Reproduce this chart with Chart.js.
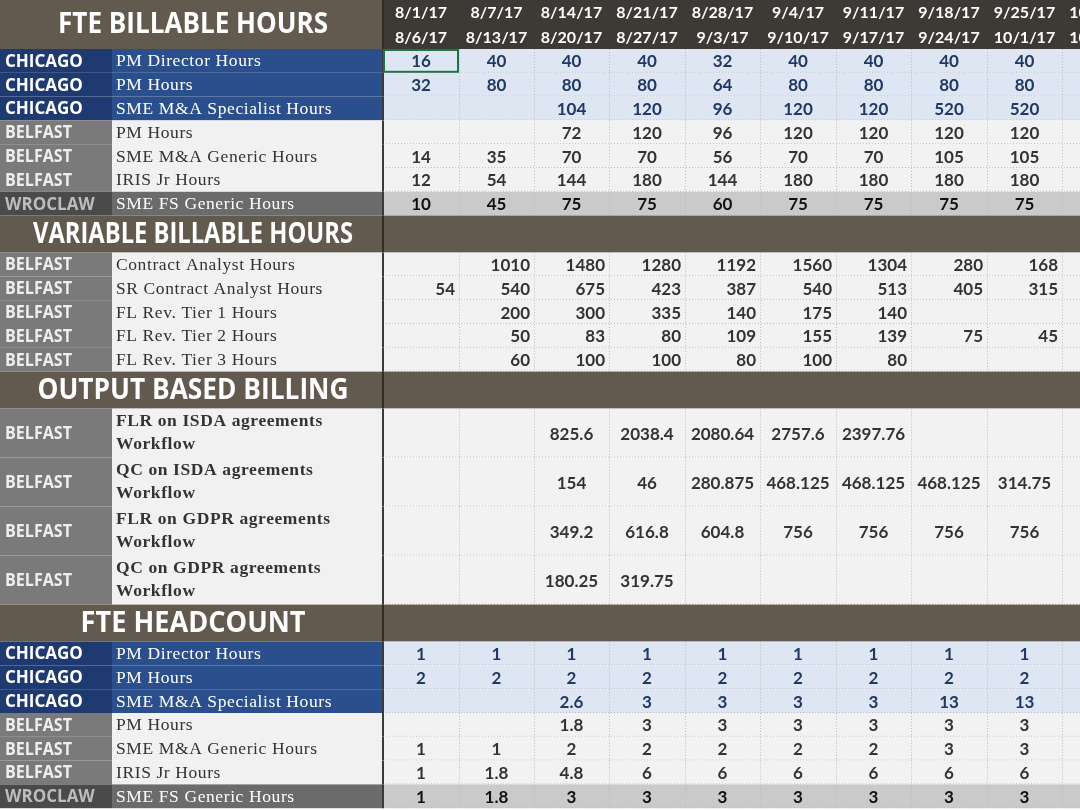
<!DOCTYPE html>
<html>
<head>
<meta charset="utf-8">
<script src="https://cdn.jsdelivr.net/npm/chart.js@4"></script>
<style>
  body { margin: 0; background: #fff; }
  #wrap { width: 1080px; height: 810px; }
</style>
</head>
<body>
<div id="wrap"><canvas id="myChart"></canvas></div>
<script>
const dateStart = ['8/1/17', '8/7/17', '8/14/17', '8/21/17', '8/28/17', '9/4/17', '9/11/17', '9/18/17', '9/25/17', '10/2/17'];
const dateEnd = ['8/6/17', '8/13/17', '8/20/17', '8/27/17', '9/3/17', '9/10/17', '9/17/17', '9/24/17', '10/1/17', '10/8/17'];

const fteRegions = ['CHICAGO', 'CHICAGO', 'CHICAGO', 'BELFAST', 'BELFAST', 'BELFAST', 'WROCLAW'];
const fteLabels = ['PM Director Hours', 'PM Hours', 'SME M&A Specialist Hours', 'PM Hours', 'SME M&A Generic Hours', 'IRIS Jr Hours', 'SME FS Generic Hours'];
const fteHours = [
  [16, 40, 40, 40, 32, 40, 40, 40, 40],
  [32, 80, 80, 80, 64, 80, 80, 80, 80],
  [null, null, 104, 120, 96, 120, 120, 520, 520],
  [null, null, 72, 120, 96, 120, 120, 120, 120],
  [14, 35, 70, 70, 56, 70, 70, 105, 105],
  [12, 54, 144, 180, 144, 180, 180, 180, 180],
  [10, 45, 75, 75, 60, 75, 75, 75, 75]
];

const varLabels = ['Contract Analyst Hours', 'SR Contract Analyst Hours', 'FL Rev. Tier 1 Hours', 'FL Rev. Tier 2 Hours', 'FL Rev. Tier 3 Hours'];
const varHours = [
  [null, 1010, 1480, 1280, 1192, 1560, 1304, 280, 168],
  [54, 540, 675, 423, 387, 540, 513, 405, 315],
  [null, 200, 300, 335, 140, 175, 140, null, null],
  [null, 50, 83, 80, 109, 155, 139, 75, 45],
  [null, 60, 100, 100, 80, 100, 80, null, null]
];

const outLabels = [
  ['FLR on ISDA agreements', 'Workflow'],
  ['QC on ISDA agreements', 'Workflow'],
  ['FLR on GDPR agreements', 'Workflow'],
  ['QC on GDPR agreements', 'Workflow']
];
const outValues = [
  [null, null, 825.6, 2038.4, 2080.64, 2757.6, 2397.76, null, null],
  [null, null, 154, 46, 280.875, 468.125, 468.125, 468.125, 314.75],
  [null, null, 349.2, 616.8, 604.8, 756, 756, 756, 756],
  [null, null, 180.25, 319.75, null, null, null, null, null]
];

const headcount = [
  [1, 1, 1, 1, 1, 1, 1, 1, 1],
  [2, 2, 2, 2, 2, 2, 2, 2, 2],
  [null, null, 2.6, 3, 3, 3, 3, 13, 13],
  [null, null, 1.8, 3, 3, 3, 3, 3, 3],
  [1, 1, 2, 2, 2, 2, 2, 3, 3],
  [1, 1.8, 4.8, 6, 6, 6, 6, 6, 6],
  [1, 1.8, 3, 3, 3, 3, 3, 3, 3]
];

// column edges in sheet units
const colEdges = [0, 112, 383, 459, 534, 609, 685, 760, 836, 911, 987, 1062, 1138];

// build the row layout
const rows = [];
let cur = 0;
function addRow(h, r) { r.y0 = cur; r.y1 = cur + h; cur += h; rows.push(r); }
addRow(49, { kind: 'head', title: 'FTE BILLABLE HOURS', tw: 270 });
fteLabels.forEach((l, i) => addRow(23.8, { kind: 'data', region: fteRegions[i], label: [l], vals: fteHours[i], align: 'center' }));
addRow(37, { kind: 'section', title: 'VARIABLE BILLABLE HOURS', tw: 320 });
varLabels.forEach((l, i) => addRow(23.8, { kind: 'data', region: 'BELFAST', label: [l], vals: varHours[i], align: 'right' }));
addRow(37, { kind: 'section', title: 'OUTPUT BASED BILLING', tw: 311 });
outLabels.forEach((l, i) => addRow(49, { kind: 'data', region: 'BELFAST', label: l, vals: outValues[i], align: 'center', bold: true }));
addRow(37, { kind: 'section', title: 'FTE HEADCOUNT', tw: 225 });
fteLabels.forEach((l, i) => addRow(23.8, { kind: 'data', region: fteRegions[i], label: [l], vals: headcount[i], align: 'center' }));

const styles = {
  CHICAGO: { reg: '#1f3a70', regText: '#ffffff', desc: '#2b4f8c', descText: '#ffffff', cell: '#dde6f2', num: '#1f3864' },
  BELFAST: { reg: '#7a7a7a', regText: '#eeeeee', desc: '#f1f1f1', descText: '#333333', cell: '#f2f2f2', num: '#333333' },
  WROCLAW: { reg: '#4a4a4a', regText: '#bdbdbd', desc: '#6b6b6b', descText: '#ffffff', cell: '#cacaca', num: '#111111' }
};

const sheetPlugin = {
  id: 'sheet',
  afterDraw(chart) {
    const ctx = chart.ctx;
    const sx = chart.scales.x, sy = chart.scales.y;
    const X = v => sx.getPixelForValue(v);
    const Y = v => sy.getPixelForValue(v);
    const rect = (x0, y0, x1, y1, c) => { ctx.fillStyle = c; ctx.fillRect(X(x0), Y(y0), X(x1) - X(x0), Y(y1) - Y(y0)); };
    ctx.save();
    ctx.textBaseline = 'middle';
    rows.forEach(r => {
      const ym = (r.y0 + r.y1) / 2;
      if (r.kind === 'head' || r.kind === 'section') {
        rect(0, r.y0, colEdges[2], r.y1, '#625a4f');
        if (r.kind === 'head') {
          rect(colEdges[2], r.y0, 1080, r.y1, '#3d3935');
          ctx.fillStyle = '#ffffff';
          ctx.font = 'bold 16px Lato';
          ctx.textAlign = 'center';
          for (let c = 0; c < dateStart.length; c++) {
            const xc = (colEdges[c + 2] + colEdges[c + 3]) / 2;
            ctx.fillText(dateStart[c], X(xc), Y(r.y0 + 13));
            ctx.fillText(dateEnd[c], X(xc), Y(r.y0 + 38));
          }
        } else {
          rect(colEdges[2], r.y0, 1080, r.y1, '#625a4f');
        }
        ctx.fillStyle = '#ffffff';
        ctx.font = 'bold 28px "Open Sans"';
        ctx.textAlign = 'center';
        ctx.fillText(r.title, X(193), Y(ym + 1), r.tw);
        // separators
        ctx.fillStyle = '#2f2b27';
        ctx.fillRect(X(colEdges[2]) - 1, Y(r.y0), 2, Y(r.y1) - Y(r.y0));
        return;
      }
      const st = styles[r.region];
      rect(0, r.y0, colEdges[1], r.y1, st.reg);
      rect(colEdges[1], r.y0, colEdges[2], r.y1, st.desc);
      rect(colEdges[2], r.y0, 1080, r.y1, st.cell);
      ctx.fillStyle = st.regText;
      ctx.font = 'bold 17px "Open Sans"';
      ctx.textAlign = 'left';
      ctx.fillText(r.region, X(5), Y(ym + 1), r.region === 'CHICAGO' ? 88 : (r.region === 'WROCLAW' ? 93 : 67));
      ctx.fillStyle = st.descText;
      ctx.font = (r.bold ? 'bold ' : '') + '17.5px "Liberation Serif"';
      ctx.letterSpacing = '0.6px';
      if (r.label.length === 1) {
        ctx.fillText(r.label[0], X(116), Y(ym + 1));
      } else {
        ctx.fillText(r.label[0], X(116), Y(r.y0 + 13));
        ctx.fillText(r.label[1], X(116), Y(r.y0 + 36));
      }
      ctx.letterSpacing = '0px';
      // dotted grid
      ctx.strokeStyle = '#bdbdbd';
      ctx.lineWidth = 1;
      ctx.setLineDash([1, 2]);
      ctx.beginPath();
      for (let c = 3; c < colEdges.length; c++) {
        ctx.moveTo(X(colEdges[c]) + 0.5, Y(r.y0));
        ctx.lineTo(X(colEdges[c]) + 0.5, Y(r.y1));
      }
      ctx.moveTo(X(colEdges[2]), Y(r.y1) - 0.5);
      ctx.lineTo(X(1080), Y(r.y1) - 0.5);
      ctx.stroke();
      ctx.setLineDash([]);
      ctx.fillStyle = '#3a3a3a';
      ctx.fillRect(X(colEdges[2]) - 1, Y(r.y0), 2, Y(r.y1) - Y(r.y0));
      // values
      ctx.fillStyle = st.num;
      ctx.font = 'bold 17px Lato';
      r.vals.forEach((v, c) => {
        if (v === null) return;
        if (r.align === 'right') {
          ctx.textAlign = 'right';
          ctx.fillText(String(v), X(colEdges[c + 3] - 4), Y(ym + 1));
        } else {
          ctx.textAlign = 'center';
          ctx.fillText(String(v), X((colEdges[c + 2] + colEdges[c + 3]) / 2), Y(ym + 1));
        }
      });
    });
    // selected cell
    const sel = rows[1];
    ctx.strokeStyle = '#217346';
    ctx.lineWidth = 2;
    ctx.strokeRect(X(colEdges[2]) + 1, Y(sel.y0) + 1, X(colEdges[3]) - X(colEdges[2]) - 2, Y(sel.y1) - Y(sel.y0) - 2);
    ctx.restore();
  }
};

new Chart(document.getElementById('myChart'), {
  type: 'scatter',
  data: { datasets: [] },
  options: {
    responsive: true,
    maintainAspectRatio: false,
    animation: false,
    layout: { padding: 0 },
    plugins: { legend: { display: false }, tooltip: { enabled: false } },
    scales: {
      x: { type: 'linear', min: 0, max: 1080, display: false },
      y: { type: 'linear', min: 0, max: 810, reverse: true, display: false }
    }
  },
  plugins: [sheetPlugin]
});
</script>
</body>
</html>
